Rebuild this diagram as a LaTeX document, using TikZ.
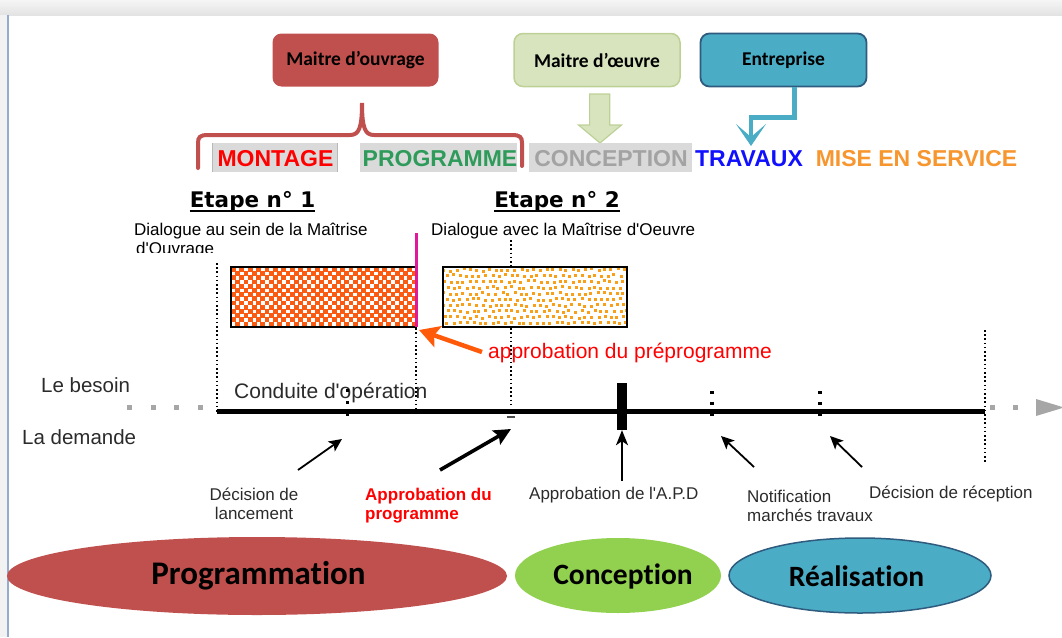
\documentclass[tikz,border=0pt]{standalone}
\usepackage{fontspec}
\setmainfont{Liberation Sans}[Ligatures=TeXOff]
\newfontfamily\calfont{Carlito}[Ligatures=NoCommon]
\newfontfamily\dvfont{DejaVu Sans}
\usetikzlibrary{arrows.meta,calc,shapes.geometric}
\newcommand\setfs[1]{\fontsize{#1}{#1}\selectfont}
\definecolor{boxred}{HTML}{C0504D}
\definecolor{boxgreen}{HTML}{D7E4BD}
\definecolor{boxgreenline}{HTML}{BDD197}
\definecolor{boxblue}{HTML}{4BACC6}
\definecolor{boxblueline}{HTML}{2E5B7E}
\definecolor{ellgreen}{HTML}{92D050}
\definecolor{phasebg}{HTML}{DADADA}
\definecolor{progreen}{HTML}{2E9B5B}
\definecolor{concgray}{HTML}{A3A3A3}
\definecolor{travblue}{HTML}{1010FF}
\definecolor{miseorange}{HTML}{F7962E}
\definecolor{checkorange}{HTML}{F95B13}
\definecolor{dotorange}{HTML}{F9A01A}
\definecolor{barmagenta}{HTML}{E0189A}
\definecolor{arrorange}{HTML}{FF5A0A}
\definecolor{labgray}{HTML}{2B2B2B}
\definecolor{tlgray}{HTML}{A6A6A6}
\begin{document}
\begin{tikzpicture}[x=1pt,y=-1pt,
  actor/.style={rounded corners=9pt, minimum width=166pt, minimum height=53pt, inner sep=0pt, font=\calfont\bfseries\setfs{19.5}},
  phase/.style={anchor=base, inner sep=0pt, font=\bfseries\setfs{23}},
  etape/.style={anchor=base, inner sep=0pt, font=\dvfont\bfseries\setfs{21.5}},
  plain/.style={anchor=base west, inner sep=0pt, font=\setfs{17}, text=labgray},
  biglab/.style={anchor=base west, inner sep=0pt, font=\setfs{20.5}, text=labgray},
  dotline/.style={line width=1.6pt, dash pattern=on 1.6pt off 2.6pt, black},
  phaseell/.style={ellipse, inner sep=0pt},
  thinarrow/.style={line width=1.8pt, -{Stealth[length=13pt,width=12pt,inset=3pt]}},
  thickarrow/.style={line width=3.6pt, -{Stealth[length=17pt,width=16pt,inset=3pt]}},
]
\useasboundingbox (0,0) rectangle (1062,637);

% window frame
\shade[top color=white!96!black, bottom color=white!89!black] (0,0) rectangle (1062,15);
\fill[white!95!black] (0,15) rectangle (7.5,637);
\draw[line width=1.4pt, color={rgb,255:red,150;green,172;blue,205}] (8,15) -- (8,637);

% actors
\node[actor, fill=boxred] (mo) at (355.5,60) {Maitre d’ouvrage};
\node[actor, fill=boxgreen, draw=boxgreenline, line width=1.5pt] (me) at (597,60) {Maitre d’œuvre};
\node[actor, fill=boxblue, draw=boxblueline, line width=1.8pt] (ent) at (783.5,60) {Entreprise};

% brace under the owner
\draw[boxred, line width=4pt, line cap=round]
  (198,168) -- (198,143) .. controls (198,137) and (200,135) .. (208,135) -- (350,135)
  .. controls (359,135) and (362,128) .. (362,103)
  .. controls (362,128) and (365,135) .. (374,135) -- (512,135)
  .. controls (520,135) and (522,137) .. (522,143) -- (522,166);

% block arrow from the designer
\filldraw[fill=boxgreen, draw=boxgreenline, line width=1.2pt]
  (589.6,94) -- (609.8,94) -- (609.8,125) -- (621.5,125) -- (600,143) -- (578.5,125) -- (589.6,125) -- cycle;

% elbow arrow from the contractor
\coordinate (travtip) at (751,146);
\draw[boxblue, line width=4.5pt, -{Stealth[length=22pt,width=30pt,inset=13pt]}]
  ([xshift=11pt]ent.south) -- ++(0,30) -| (travtip);

% phases
\fill[phasebg] (212,143) rectangle (338,171.7);
\draw[white!72!black, line width=1.2pt] (212.5,143) -- (212.5,171.7) (337.5,143) -- (337.5,171.7);
\fill[phasebg] (360,143) rectangle (517,171.7);
\fill[phasebg] (528.6,143) rectangle (691.5,171.7);
\node[phase, text=red] (pmont) at (275.5,166.7) {MONTAGE};
\node[phase, text=progreen] (pprog) at (440,166.7) {PROGRAMME};
\node[phase, text=concgray] (pconc) at (611,166.7) {CONCEPTION};
\node[phase, text=travblue] (ptrav) at (749,166.7) {TRAVAUX};
\node[phase, text=miseorange] (pmise) at (916.5,166.7) {MISE EN SERVICE};

% steps
\node[etape] (e1) at (252.5,207) {Etape n° 1};
\node[etape] (e2) at (557,207) {Etape n° 2};
\draw[line width=1.8pt] ([yshift=-3.8pt]e1.base west) -- ([yshift=-3.8pt]e1.base east);
\draw[line width=1.8pt] ([yshift=-3.8pt]e2.base west) -- ([yshift=-3.8pt]e2.base east);
\node[plain, text=black] (d1) at (134,235) {Dialogue au sein de la Maîtrise};
\begin{scope}
  \clip (120,238) rectangle (300,252);
  \node[plain, text=black] (d1b) at (136,254) {d'Ouvrage};
\end{scope}
\node[plain, text=black] (d2) at (431,235) {Dialogue avec la Maîtrise d'Oeuvre};

% dotted guides
\draw[dotline] (217,263) -- (217,414);
\draw[dotline] (416,240) -- (416,409);
\draw[dotline] (511,240) -- (511,407);
\draw[dotline] (985,330) -- (985,462);

% step 1 block (checkerboard)
\begin{scope}
  \clip (231,267) rectangle (416,327);
  \fill[white] (231,267) rectangle (416,327);
  \foreach \j in {0,...,14}{
    \foreach \i in {0,...,22}{
      \pgfmathsetmacro\cx{231+(2*\i+mod(\j,2))*4.2}
      \pgfmathsetmacro\cy{267+\j*4.2}
      \fill[checkorange] (\cx,\cy) rectangle ++(4.7,4.7);
    }
  }
\end{scope}
\node[draw=black, line width=2pt, minimum width=185pt, minimum height=60pt, inner sep=0pt] (blk1) at (323.5,297) {};

% step 2 block (dots)
\fill[white] (442.5,267) rectangle (627,327);
\begin{scope}
  \clip (442.5,267) rectangle (627,327);
  \pgfmathsetseed{12}
  \foreach \j in {0,...,10}{
    \foreach \i in {0,...,29}{
      \pgfmathsetmacro\dx{443+\i*6.4+mod(\j,2)*3.2+1.1*rand}
      \pgfmathsetmacro\dy{268.5+\j*5.9+1.1*rand}
      \fill[dotorange] (\dx,\dy) rectangle ++(3,3);
    }
  }
\end{scope}
\node[draw=black, line width=2pt, minimum width=184.5pt, minimum height=60pt, inner sep=0pt] (blk2) at (534.75,297) {};

% pre-programme approval
\node[fill=barmagenta, minimum width=3.6pt, minimum height=94pt, inner sep=0pt] (bar) at (416.5,280) {};
\coordinate (oatail) at (482,352);
\draw[arrorange, line width=4.5pt, -{Stealth[length=20pt,width=22pt,inset=4pt]}] (oatail) -- ([shift={(2pt,-2pt)}]blk1.south east);
\node[anchor=base west, inner sep=0pt, font=\setfs{21}, text=red] (apre) at (488,358) {approbation du préprogramme};

% time axis
\coordinate (t0) at (217,411);
\coordinate (t1) at (985,411);
\foreach \x in {129,153,176,200}{\fill[tlgray] (\x-2.5,404.5) rectangle ++(5,5);}
\foreach \x in {992,1015}{\fill[tlgray] (\x-2.5,404.5) rectangle ++(5,5);}
\fill[tlgray] (1036,399) -- (1064,407.5) -- (1036,416) -- cycle;
\draw[line width=5pt] (t0) -- (t1);

\node[biglab] (besoin) at (41,392) {Le besoin};
\node[biglab] (demande) at (22,444) {La demande};
\node[anchor=base west, inner sep=0pt, font=\setfs{21}, text=labgray] (conduite) at (234,398.5) {Conduite d'opération};

% milestones
\coordinate (m1) at (347,411);
\draw[line width=3pt, dash pattern=on 3pt off 9pt] (347,389) -- (347,420);
\draw[line width=1.5pt, black!70] (507,417) -- (515,417);
\node[fill=black, minimum width=9.5pt, minimum height=47pt, inner sep=0pt] (apd) at (622,406.5) {};
\draw[line width=4.3pt, dash pattern=on 3pt off 8pt] (712,391) -- (712,416);
\draw[line width=4.3pt, dash pattern=on 3pt off 8pt] (820,391) -- (820,416);

\coordinate (a1t) at (298,470); \coordinate (a1h) at (342,439);
\coordinate (a2t) at (440,470); \coordinate (a2h) at (511,429);
\coordinate (a3t) at (622,481);
\coordinate (a4t) at (754,467); \coordinate (a4h) at (721,436);
\coordinate (a5t) at (862,467); \coordinate (a5h) at (830,436);
\draw[thinarrow] (a1t) -- (a1h);
\draw[thickarrow] (a2t) -- (a2h);
\draw[line width=1.6pt, -{Stealth[length=15pt,width=12pt,inset=4pt]}] (a3t) -- (apd.south);
\draw[thinarrow] (a4t) -- (a4h);
\draw[thinarrow] (a5t) -- (a5h);

% milestone labels (base anchor sits on the last line)
\node[anchor=base, inner sep=0pt, font=\setfs{17}, text=labgray, align=center] (l1) at (254,519) {Décision de\\[2pt]lancement};
\node[anchor=base west, inner sep=0pt, font=\bfseries\setfs{17}, text=red, align=left] (l2) at (365,519) {Approbation du\\[2pt]programme};
\node[plain] (l3) at (529,499) {Approbation de l'A.P.D};
\node[anchor=base west, inner sep=0pt, font=\setfs{17}, text=labgray, align=left] (l4) at (747,521) {Notification\\[2pt]marchés travaux};
\node[plain] (l5) at (869,498) {Décision de réception};

% phases of the operation
\node[phaseell, fill=boxred, minimum width=500pt, minimum height=78pt] (eprog) at (257,576) {};
\node[font=\calfont\bfseries\setfs{33}, inner sep=0pt] (tprog) at (258.5,576) {Programmation};
\node[phaseell, fill=ellgreen, minimum width=206pt, minimum height=75pt] (econc) at (618,575.5) {};
\node[font=\calfont\bfseries\setfs{29.5}, inner sep=0pt] (tconc) at (623,576) {Conception};
\node[phaseell, fill=boxblue, draw=boxblueline, line width=1.5pt, minimum width=262pt, minimum height=75pt] (ereal) at (860,575.5) {};
\node[font=\calfont\bfseries\setfs{29.5}, inner sep=0pt] (treal) at (856.5,576) {Réalisation};
\end{tikzpicture}
\end{document}
